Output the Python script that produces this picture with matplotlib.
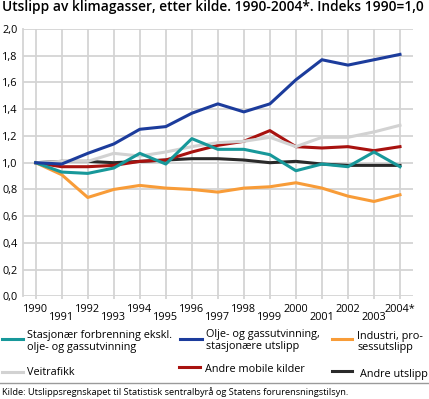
import matplotlib
matplotlib.use("Agg")
import matplotlib.pyplot as plt
from matplotlib.lines import Line2D
from matplotlib.ticker import FixedLocator, FuncFormatter

plt.rcParams["font.family"] = ["Open Sans", "DejaVu Sans"]

years = list(range(1990, 2005))
year_labels = [str(y) for y in years[:-1]] + ["2004*"]

stasjonaer = [1.00, 0.93, 0.92, 0.96, 1.07, 0.99, 1.18, 1.10, 1.10, 1.06, 0.94, 0.99, 0.97, 1.08, 0.97]
olje_gass = [1.00, 0.99, 1.07, 1.14, 1.25, 1.27, 1.37, 1.44, 1.38, 1.44, 1.62, 1.77, 1.73, 1.77, 1.81]
industri = [1.00, 0.91, 0.74, 0.80, 0.83, 0.81, 0.80, 0.78, 0.81, 0.82, 0.85, 0.81, 0.75, 0.71, 0.76]
veitrafikk = [1.00, 1.01, 1.01, 1.07, 1.05, 1.08, 1.12, 1.15, 1.16, 1.19, 1.12, 1.19, 1.19, 1.23, 1.28]
andre_mobile = [1.00, 0.97, 0.97, 0.98, 1.01, 1.02, 1.08, 1.13, 1.16, 1.24, 1.12, 1.11, 1.12, 1.09, 1.12]
andre_utslipp = [1.00, 1.01, 1.01, 1.00, 1.01, 1.02, 1.03, 1.03, 1.02, 1.00, 1.01, 0.99, 0.98, 0.98, 0.98]

c_teal = "#17989a"
c_blue = "#1c3c9c"
c_orange = "#f89c38"
c_gray = "#d2d2d2"
c_red = "#a8120f"
c_black = "#2a2a2a"
grid_c = "#d4d4d4"

W, H = 429, 399
fig = plt.figure(figsize=(W / 100, H / 100), dpi=100)
ax = fig.add_axes([22.7 / W, 1 - 296.4 / H, (413 - 22.7) / W, (296.4 - 29) / H])

lw = 2.2
ax.plot(years, andre_utslipp, color=c_black, lw=lw, zorder=3)
ax.plot(years, andre_mobile, color=c_red, lw=lw, zorder=3)
ax.plot(years, veitrafikk, color=c_gray, lw=lw, zorder=3)
ax.plot(years, industri, color=c_orange, lw=lw, zorder=3)
ax.plot(years, stasjonaer, color=c_teal, lw=lw, zorder=3)
ax.plot(years, olje_gass, color=c_blue, lw=lw, zorder=3)

ax.set_xlim(1989.5, 2004.5)
ax.set_ylim(0, 2.0)

# even years on the upper row, odd years staggered below
ax.xaxis.set_major_locator(FixedLocator(years[0::2]))
ax.xaxis.set_minor_locator(FixedLocator(years[1::2]))
ax.set_xticklabels(year_labels[0::2])
ax.set_xticklabels(year_labels[1::2], minor=True)
ax.tick_params(axis="x", which="major", length=2, color=grid_c, width=1.3, pad=3.2, labelsize=7.8)
ax.tick_params(axis="x", which="minor", length=2, color=grid_c, width=1.3, pad=9.3, labelsize=7.8)

ax.set_yticks([i / 10 for i in range(0, 21, 2)])
ax.yaxis.set_major_formatter(FuncFormatter(lambda v, p: f"{v:.1f}".replace(".", ",")))
ax.tick_params(axis="y", length=0, pad=3.5, labelsize=7.8)

ax.grid(True, which="both", axis="x", color=grid_c, lw=1.3)
ax.grid(True, which="major", axis="y", color=grid_c, lw=1.3)
ax.set_axisbelow(True)
for s in ["top", "right", "bottom"]:
    ax.spines[s].set_visible(False)
ax.spines["left"].set_color(grid_c)
ax.spines["left"].set_linewidth(1.3)

fig.text(2 / W, 1 - 11 / H, "Utslipp av klimagasser, etter kilde. 1990-2004*. Indeks 1990=1,0",
         fontsize=9.9, fontweight="semibold", ha="left", va="baseline")


def legend_item(x0, x1, y_line, color, tx, ty, label):
    fig.add_artist(Line2D([x0 / W, x1 / W], [1 - y_line / H, 1 - y_line / H],
                          color=color, lw=2.2, transform=fig.transFigure))
    fig.text(tx / W, 1 - ty / H, label, fontsize=7.8, ha="left", va="center", linespacing=1.1)


legend_item(1.7, 22.7, 339.3, c_teal, 27.5, 341.5, "Stasjonær forbrenning ekskl.\nolje- og gassutvinning")
legend_item(180, 201.7, 339.3, c_blue, 206, 340.5, "Olje- og gassutvinning,\nstasjonære utslipp")
legend_item(331.7, 352.3, 339.3, c_orange, 357.3, 342, "Industri, pro-\nsessutslipp")
legend_item(1.7, 22.7, 371.7, c_gray, 27.5, 372.7, "Veitrafikk")
legend_item(179.3, 200, 366.7, c_red, 205, 370, "Andre mobile kilder")
legend_item(331.7, 352.3, 371, c_black, 360, 374, "Andre utslipp")

fig.add_artist(Line2D([0, 1], [1 - 383.3 / H, 1 - 383.3 / H], color="#9a9a9a", lw=1.0,
                      transform=fig.transFigure))
fig.text(2 / W, 1 - 392 / H,
         "Kilde: Utslippsregnskapet til Statistisk sentralbyrå og Statens forurensningstilsyn.",
         fontsize=6.7, ha="left", va="center")

fig.savefig("out.png", dpi=100)
